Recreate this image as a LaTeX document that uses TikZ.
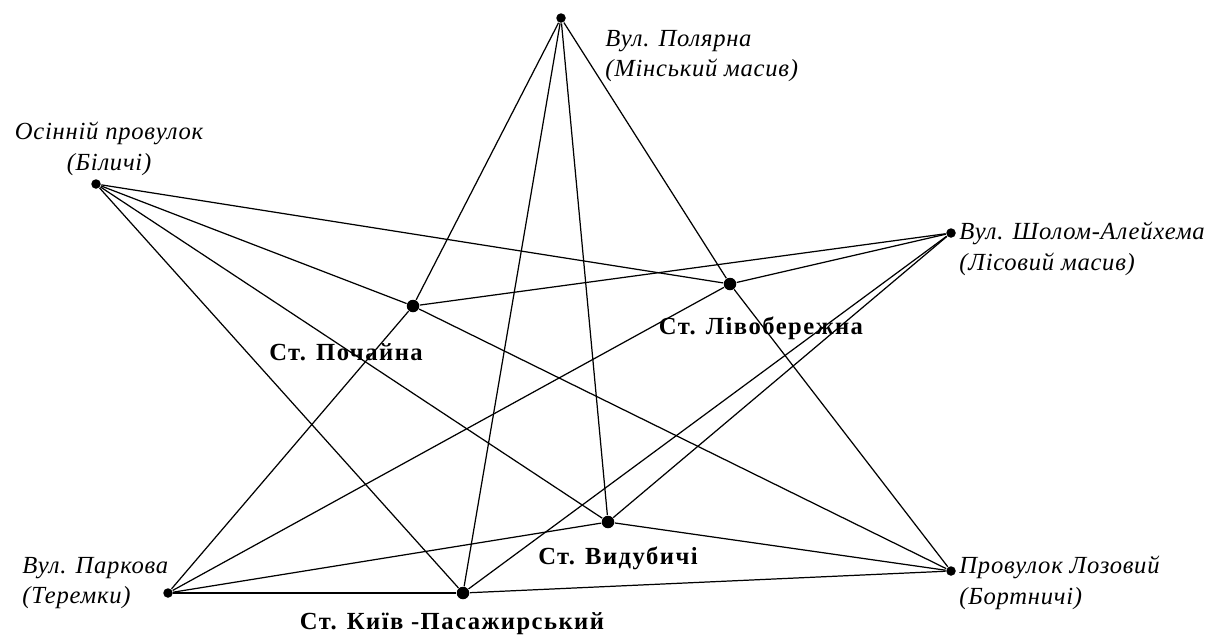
\documentclass[tikz,border=0pt]{standalone}
\usepackage{fontspec}
\setmainfont{Liberation Serif}
\usepackage{tikz}
\tikzset{stopdot/.style = {shape=circle,fill,inner sep=0pt,minimum size=0.19cm}}
\tikzset{hubdot/.style = {shape=circle,fill,inner sep=0pt,minimum size=0.25cm}}
\tikzset{streetlabel/.style = {font=\fontsize{14}{17.5}\selectfont\itshape\addfontfeature{LetterSpace=3}}}
\tikzset{hublabel/.style = {font=\fontsize{14}{17}\selectfont\bfseries\addfontfeature{LetterSpace=6}}}

\begin{document}
\begin{tikzpicture}[line width=0.7pt]
                \useasboundingbox (0,0) rectangle (24.1,-12.72);
                \node[stopdot] (polyarna) at (11.22,-0.36) {};
                \node[stopdot] (osinniy) at (1.92,-3.68) {};
                \node[stopdot] (sholom) at (19.02,-4.66) {};
                \node[stopdot] (lozovyi) at (19.02,-11.42) {};
                \node[stopdot] (parkova) at (3.36,-11.86) {};
                \node[hubdot] (pochayna) at (8.26,-6.12) {};
                \node[hubdot] (livober) at (14.6,-5.68) {};
                \node[hubdot] (vydubychi) at (12.16,-10.44) {};
                \node[hubdot] (kyiv) at (9.26,-11.86) {};
                \node[streetlabel,anchor=west,align=left] (polyarnatext) at (11.98,-1.12) {Вул. Полярна\\(Мінський масив)};
                \node[streetlabel,align=center] (osinniytext) at (2.18,-2.98) {Осінній провулок\\(Біличі)};
                \node[streetlabel,anchor=west,align=left] (sholomtext) at (19.06,-4.98) {Вул. Шолом-Алейхема\\(Лісовий масив)};
                \node[streetlabel,anchor=west,align=left] (parkovatext) at (0.32,-11.66) {Вул. Паркова\\(Теремки)};
                \node[streetlabel,anchor=west,align=left] (lozovyitext) at (19.06,-11.66) {Провулок Лозовий\\(Бортничі)};
                \node[hublabel] (pochaynatext) at (6.92,-7.04) {Ст. Почайна};
                \node[hublabel] (livobertext) at (15.22,-6.56) {Ст. Лівобережна};
                \node[hublabel] (vydubychitext) at (12.36,-11.16) {Ст. Видубичі};
                \node[hublabel] (kyivtext) at (9.04,-12.48) {Ст. Київ -Пасажирський};
                \draw (polyarna) -- (pochayna);
                \draw (polyarna) -- (livober);
                \draw (polyarna) -- (vydubychi);
                \draw (polyarna) -- (kyiv);
                \draw (osinniy) -- (pochayna);
                \draw (osinniy) -- (livober);
                \draw (osinniy) -- (vydubychi);
                \draw (osinniy) -- (kyiv);
                \draw (sholom) -- (pochayna);
                \draw (sholom) -- (livober);
                \draw (sholom) -- (vydubychi);
                \draw (sholom) -- (kyiv);
                \draw (lozovyi) -- (pochayna);
                \draw (lozovyi) -- (livober);
                \draw (lozovyi) -- (vydubychi);
                \draw (lozovyi) -- (kyiv);
                \draw (parkova) -- (pochayna);
                \draw (parkova) -- (livober);
                \draw (parkova) -- (vydubychi);
                \draw (parkova) -- (kyiv);
            \end{tikzpicture}
\end{document}
